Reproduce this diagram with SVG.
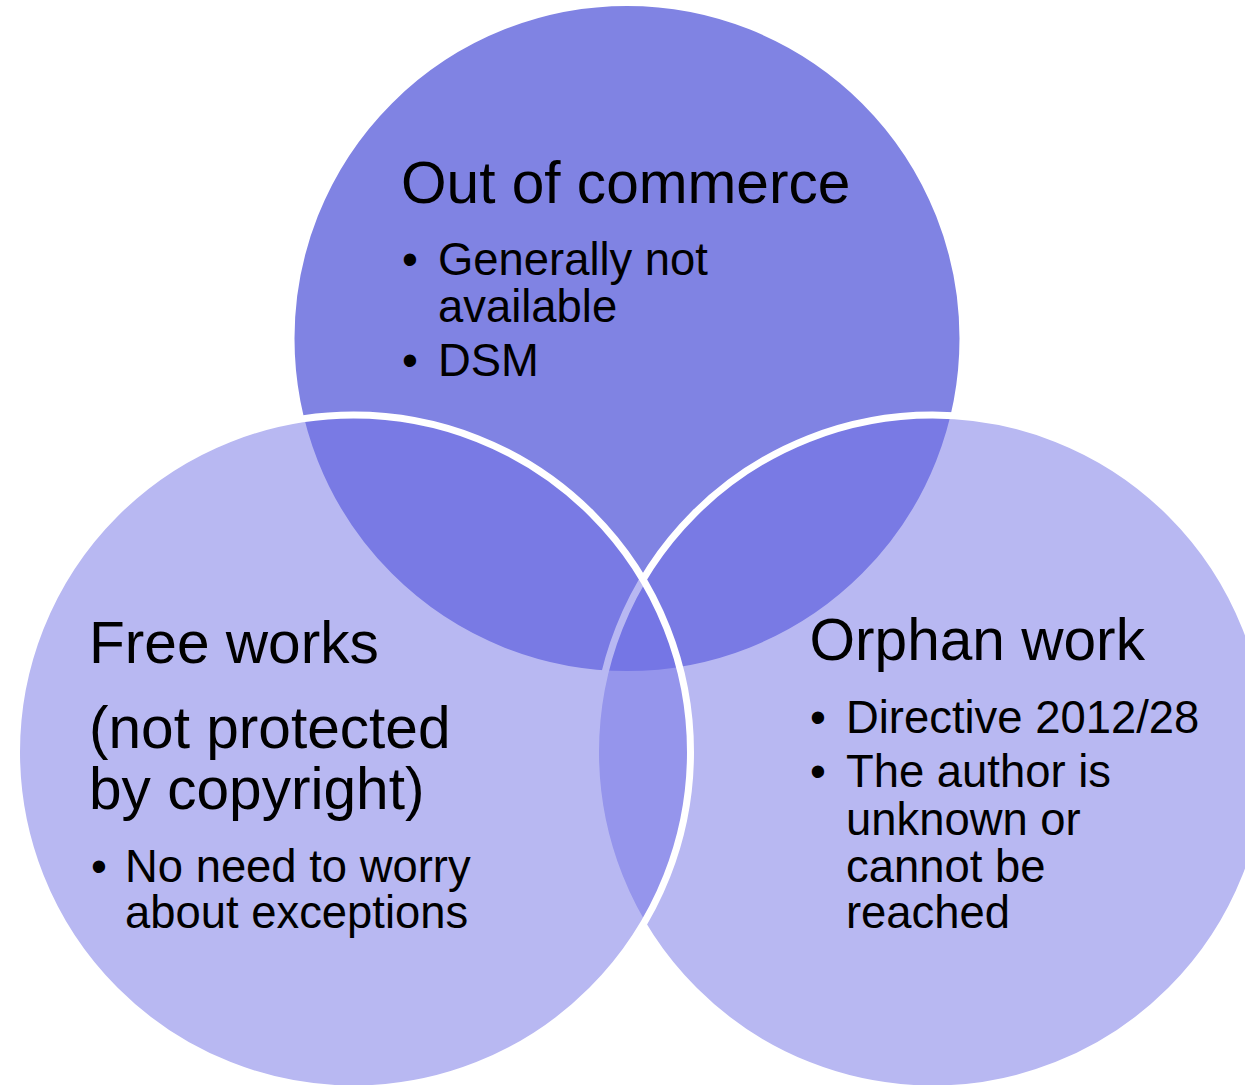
<svg xmlns="http://www.w3.org/2000/svg" width="1245" height="1085" viewBox="0 0 1245 1085">
  <style>
    .ring { stroke: #FFFFFF; stroke-width: 7; }
    .top { fill: #8083E3; }
    .side { fill: #7171E5; fill-opacity: 0.5; }
    .title { font-family: "Liberation Sans", Arial, sans-serif; font-size: 58.6px; fill: #000000; }
    .item { font-family: "Liberation Sans", Arial, sans-serif; font-size: 45.4px; fill: #000000; }
  </style>
  <rect x="0" y="0" width="1245" height="1085" fill="#FFFFFF"/>
  <g id="connectors"></g>
  <g id="node-out-of-commerce">
    <circle class="ring top" cx="627" cy="338.5" r="336"/>
    <text class="title" x="401" y="203">Out of commerce</text>
    <text class="item" x="402" y="275">•</text>
    <text class="item" x="438" y="275">Generally not</text>
    <text class="item" x="438" y="322">available</text>
    <text class="item" x="402" y="376">•</text>
    <text class="item" x="438" y="376">DSM</text>
  </g>
  <g id="node-orphan-work">
    <circle class="ring side" cx="932.5" cy="752" r="337"/>
    <text class="title" x="809.5" y="660">Orphan work</text>
    <text class="item" x="810" y="733">•</text>
    <text class="item" x="846" y="733">Directive 2012/28</text>
    <text class="item" x="810" y="787">•</text>
    <text class="item" x="846" y="787">The author is</text>
    <text class="item" x="846" y="835">unknown or</text>
    <text class="item" x="846" y="882">cannot be</text>
    <text class="item" x="846" y="928">reached</text>
  </g>
  <g id="node-free-works">
    <circle class="ring side" cx="353.5" cy="752" r="337"/>
    <text class="title" x="89" y="663">Free works</text>
    <text class="title" x="89" y="748">(not protected</text>
    <text class="title" x="89" y="809">by copyright)</text>
    <text class="item" x="91" y="882">•</text>
    <text class="item" x="125" y="882">No need to worry</text>
    <text class="item" x="125" y="928">about exceptions</text>
  </g>
</svg>
